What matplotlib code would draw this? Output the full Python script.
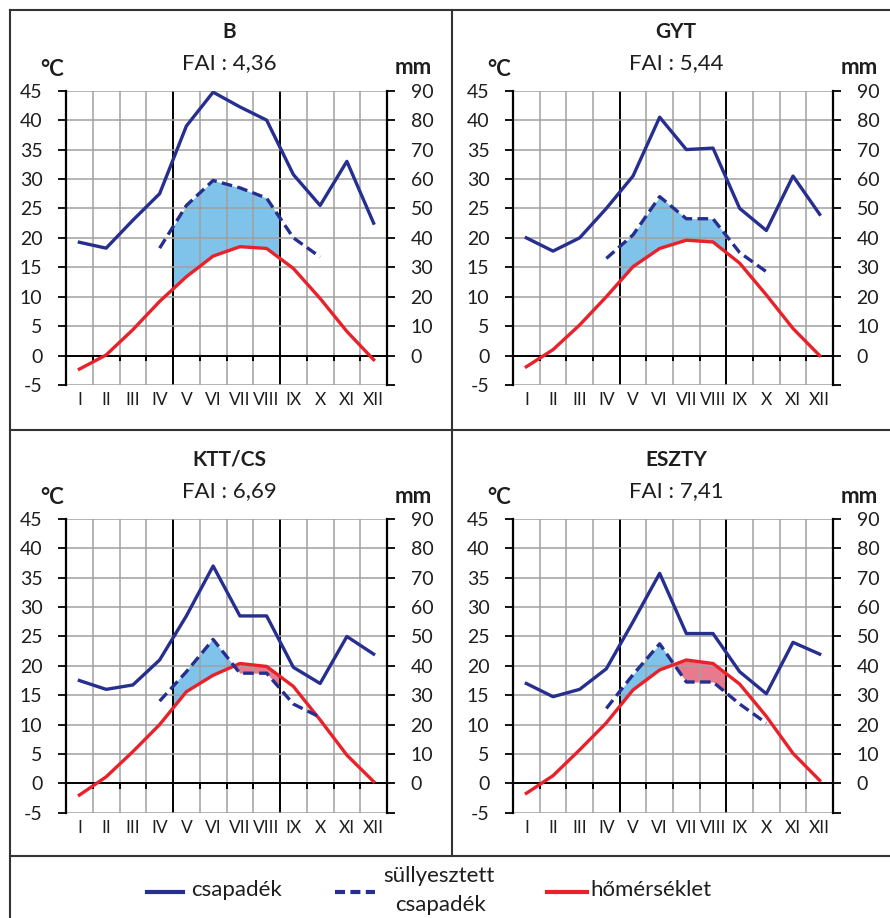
import numpy as np
import matplotlib
matplotlib.use('Agg')
import matplotlib.pyplot as plt
from matplotlib.lines import Line2D
from matplotlib.patches import Rectangle

plt.rcParams['font.family'] = ['Lato', 'DejaVu Sans']
plt.rcParams['axes.unicode_minus'] = False

W, H = 890, 918

months = ['I', 'II', 'III', 'IV', 'V', 'VI', 'VII', 'VIII', 'IX', 'X', 'XI', 'XII']
names = ['B', 'GYT', 'KTT/CS', 'ESZTY']
fai = ['4,36', '5,44', '6,69', '7,41']

# csapadék (mm), I-XII
precip_b = [38.5, 36.5, 46, 55, 78, 89.5, 84.5, 80, 61.5, 51, 66, 45]
precip_gyt = [40, 35.5, 40, 50, 61, 81, 70, 70.5, 50, 42.5, 61, 48]
precip_ktt = [35, 32, 33.5, 42, 57, 74, 57, 57, 39.5, 34, 50, 44]
precip_eszty = [34, 29.5, 32, 39, 55, 71.5, 51, 51, 38, 30.5, 48, 44]

# süllyesztett csapadék (mm), IV-X
red_b = [36.5, 51, 59.5, 57, 53.5, 40, 33.5]
red_gyt = [33, 41, 54, 46.5, 46.5, 35, 28.5]
red_ktt = [28, 38, 49, 37.5, 37.5, 27, 22.5]
red_eszty = [25.5, 37, 47.5, 34.5, 34.5, 27, 20.5]

# hőmérséklet (°C), I-XII
temp_b = [-2.3, 0.1, 4.4, 9.2, 13.4, 16.9, 18.5, 18.2, 14.8, 9.7, 4.1, -0.7]
temp_gyt = [-1.9, 1.0, 5.2, 10.0, 15.1, 18.2, 19.6, 19.3, 15.7, 10.3, 4.6, 0.0]
temp_ktt = [-2.0, 1.1, 5.4, 10.0, 15.6, 18.4, 20.4, 19.9, 16.5, 10.8, 4.8, 0.3]
temp_eszty = [-1.7, 1.3, 5.7, 10.3, 15.9, 19.3, 21.0, 20.4, 16.9, 11.4, 5.1, 0.5]

NAVY = '#262f8f'
RED = '#e8212b'
BLUE_FILL = '#7fc3ea'
PINK_FILL = '#e77b8d'
GRID = '#a0a0a0'
TXT = '#1e1e1e'


def fx(px):
    return px / W


def fy(py):
    return 1 - py / H


def draw_panel(fig, box, title, fai_txt, precip, reduced, temp):
    left, top, right, bottom = box
    ax = fig.add_axes([fx(left), fy(bottom), (right - left) / W, (bottom - top) / H])
    x = np.arange(12)

    ax.set_xlim(-0.5, 11.5)
    ax.set_ylim(-5, 45)
    ax.set_yticks(range(-5, 50, 5))
    ax.set_xticks(x)
    ax.set_xticklabels(months)
    ax.tick_params(axis='x', length=0, pad=5, labelsize=12.5, labelcolor=TXT)
    ax.tick_params(axis='y', length=6, width=1.3, direction='out', pad=11,
                   labelsize=14, labelcolor=TXT)
    for s in ['top', 'bottom', 'right']:
        ax.spines[s].set_visible(False)
    ax.spines['left'].set_linewidth(1.6)

    # grid
    for b in range(11):
        if b in (3, 7):
            ax.axvline(b + 0.5, color='black', lw=1.4, zorder=1.5)
        else:
            ax.axvline(b + 0.5, color=GRID, lw=1.1, zorder=1.5)
    for yv in range(-5, 50, 5):
        if yv == 0:
            ax.axhline(0, color='black', lw=1.4, zorder=1.6)
        else:
            ax.axhline(yv, color=GRID, lw=1.1, zorder=1.5)
    ax.vlines(np.arange(11) + 0.5, -0.9, 0, colors='black', lw=1.4, zorder=1.6)

    # fill between reduced precipitation and temperature (V-VIII)
    xs = x[3:10]
    dc = np.array(reduced) / 2.0
    ts = np.array(temp)[3:10]
    clip = Rectangle((3.5, -5), 4, 50, transform=ax.transData)
    f1 = ax.fill_between(xs, dc, ts, where=dc >= ts, interpolate=True,
                         color=BLUE_FILL, lw=0, zorder=1)
    f2 = ax.fill_between(xs, dc, ts, where=dc < ts, interpolate=True,
                         color=PINK_FILL, lw=0, zorder=1)
    f1.set_clip_path(clip)
    f2.set_clip_path(clip)

    ax.plot(x, temp, color=RED, lw=2.4, zorder=3)

    ax2 = ax.twinx()
    ax2.set_ylim(-10, 90)
    ax2.set_yticks(range(-10, 100, 10))
    ax2.set_yticklabels([''] + [str(v) for v in range(0, 100, 10)])
    ax2.tick_params(axis='y', length=6, width=1.3, direction='out', pad=11,
                    labelsize=14, labelcolor=TXT)
    for s in ['top', 'bottom', 'left']:
        ax2.spines[s].set_visible(False)
    ax2.spines['right'].set_linewidth(1.6)
    ax2.plot(x, precip, color=NAVY, lw=2.4, zorder=3)
    ax2.plot(xs, reduced, color=NAVY, lw=2.4, ls=(0, (3.2, 1.6)), zorder=3)

    cx = (left + right) / 2 + 3
    fig.text(fx(cx), fy(top - 59), title, ha='center', va='center',
             fontsize=15, fontweight='bold', color=TXT)
    fig.text(fx(cx), fy(top - 28), 'FAI : ' + fai_txt, ha='center', va='center',
             fontsize=16, color=TXT)
    fig.text(fx(left - 14), fy(top - 21), '°C', ha='center', va='center',
             fontsize=16, fontweight='bold', color=TXT)
    fig.text(fx(right + 26), fy(top - 23), 'mm', ha='center', va='center',
             fontsize=16, fontweight='bold', color=TXT)
    return ax


fig = plt.figure(figsize=(W / 100, H / 100), dpi=100)

boxes = [(66, 90.7, 387, 385), (513, 90.7, 833, 385),
         (66, 519, 387, 812.7), (513, 519, 833, 812.7)]
precips = [precip_b, precip_gyt, precip_ktt, precip_eszty]
reduceds = [red_b, red_gyt, red_ktt, red_eszty]
temps = [temp_b, temp_gyt, temp_ktt, temp_eszty]

for i in range(4):
    draw_panel(fig, boxes[i], names[i], fai[i], precips[i], reduceds[i], temps[i])

# frame
frame_kw = dict(color='#333333', lw=1.5, transform=fig.transFigure)
fig.add_artist(Line2D([fx(10), fx(890)], [fy(10), fy(10)], **frame_kw))
fig.add_artist(Line2D([fx(10), fx(10)], [fy(10), fy(918)], **frame_kw))
fig.add_artist(Line2D([fx(10), fx(890)], [fy(430), fy(430)], **frame_kw))
fig.add_artist(Line2D([fx(10), fx(890)], [fy(856), fy(856)], **frame_kw))
fig.add_artist(Line2D([fx(452), fx(452)], [fy(10), fy(856)], **frame_kw))

# legend
ly = 892
fig.add_artist(Line2D([fx(147), fx(183)], [fy(ly), fy(ly)], color=NAVY, lw=3,
                      transform=fig.transFigure))
fig.text(fx(191), fy(ly - 2), 'csapadék', ha='left', va='center', fontsize=16, color=TXT)
fig.add_artist(Line2D([fx(335), fx(375)], [fy(ly), fy(ly)], color=NAVY, lw=3,
                      ls=(0, (2.4, 1.3)), transform=fig.transFigure))
fig.text(fx(439), fy(876), 'süllyesztett', ha='center', va='center', fontsize=16, color=TXT)
fig.text(fx(441), fy(905), 'csapadék', ha='center', va='center', fontsize=16, color=TXT)
fig.add_artist(Line2D([fx(547), fx(587)], [fy(ly), fy(ly)], color=RED, lw=3,
                      transform=fig.transFigure))
fig.text(fx(590), fy(ly - 2), 'hőmérséklet', ha='left', va='center', fontsize=16, color=TXT)

fig.savefig('out.png', dpi=100)
